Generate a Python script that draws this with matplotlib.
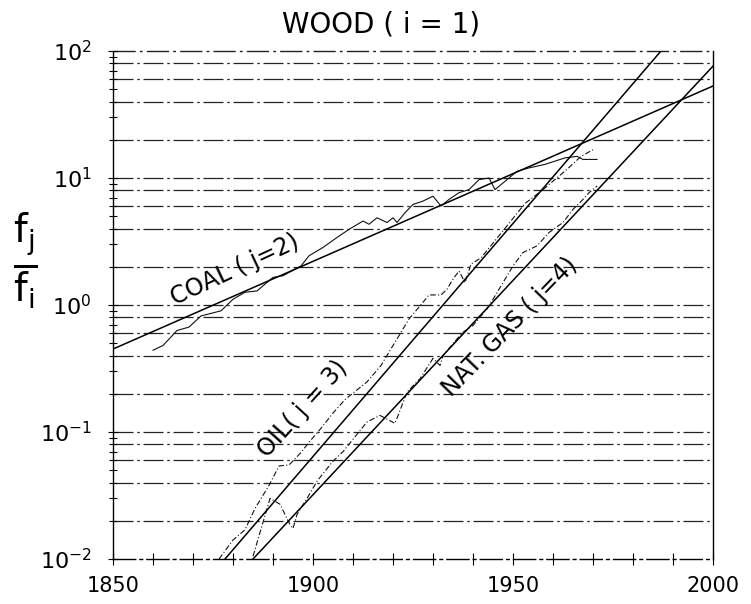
import numpy as np
import matplotlib
matplotlib.use("Agg")
import matplotlib.pyplot as plt
from matplotlib.ticker import FixedLocator, NullFormatter

plt.rcParams['font.family'] = ['DejaVu Sans']
plt.rcParams['mathtext.fontset'] = 'dejavusans'

# --- data ---
coal_years = [1860, 1862.5, 1866, 1869, 1872, 1877, 1880, 1883, 1886, 1890, 1892.5,
              1897, 1899, 1902.5, 1906, 1909, 1912.5, 1914, 1916, 1918.5, 1920, 1921,
              1923, 1925, 1927.5, 1930, 1932, 1934, 1936.5, 1939, 1941.5, 1944, 1945.5,
              1949, 1951, 1954, 1958, 1963, 1966, 1967.5, 1971]
coal_ratio = [0.44, 0.48, 0.63, 0.67, 0.82, 0.90, 1.11, 1.26, 1.29, 1.65, 1.70,
              2.03, 2.44, 2.84, 3.40, 3.94, 4.58, 4.32, 4.86, 4.46, 4.86, 4.46,
              5.33, 6.19, 6.58, 7.19, 6.01, 6.78, 7.66, 8.1, 9.7, 10.0, 8.1,
              10.0, 11.3, 12.0, 12.8, 14.4, 14.8, 14.0, 14.0]

oil_years = [1876.5, 1880, 1883, 1885.5, 1889, 1891.5, 1894, 1897, 1899, 1902, 1905,
             1908, 1913.5, 1917, 1919, 1922, 1924, 1927.5, 1929, 1932, 1933.5, 1935,
             1936.5, 1938, 1939.5, 1942, 1948.5, 1953, 1957.5, 1963.5, 1967, 1970]
oil_ratio = [0.010, 0.0141, 0.017, 0.025, 0.038, 0.054, 0.055, 0.069, 0.083, 0.107, 0.141,
             0.18, 0.248, 0.334, 0.426, 0.61, 0.776, 1.05, 1.2, 1.2, 1.33, 1.6,
             1.85, 1.5, 2.1, 2.35, 4.2, 6.3, 8.1, 11.7, 14.8, 16.7]

gas_years = [1885, 1889.25, 1891.75, 1894.25, 1895, 1896, 1898.5, 1901, 1905, 1907.5,
             1913.5, 1916.75, 1920.5, 1923.5, 1926.75, 1930, 1931.75, 1932.5, 1936,
             1937.5, 1940, 1943.5, 1945, 1950, 1952.5, 1956, 1959, 1962.5, 1965,
             1967.5, 1969, 1971]
gas_ratio = [0.0105, 0.030, 0.027, 0.0186, 0.0174, 0.0224, 0.030, 0.041, 0.059, 0.070,
             0.120, 0.135, 0.117, 0.206, 0.263, 0.38, 0.334, 0.40, 0.54,
             0.61, 0.69, 0.93, 1.11, 2.03, 2.59, 2.92, 3.72, 4.46, 5.66,
             6.78, 7.66, 8.63]

# fitted lines (straight on the log scale)
coal_fit_years = [1850, 2000]
coal_fit = [0.45, 53]
oil_fit_years = [1878, 1987]
oil_fit = [0.01, 100]
gas_fit_years = [1885, 2000]
gas_fit = [0.01, 76]

x_ticks = [1850, 1900, 1950, 2000]
y_ticks = [1e-2, 1e-1, 1e0, 1e1, 1e2]
y_tick_labels = [r'$\mathregular{10^{-2}}$', r'$\mathregular{10^{-1}}$',
                 r'$\mathregular{10^{0}}$', r'$\mathregular{10^{1}}$',
                 r'$\mathregular{10^{2}}$']
grid_mantissas = [1, 2, 4, 6, 8]

fig = plt.figure(figsize=(7.51, 6.04), dpi=100)
ax = fig.add_axes([0.1505, 0.0745, 0.7989, 0.8411])
ax.set_yscale('log')
ax.set_xlim(1850, 2000)
ax.set_ylim(1e-2, 1e2)

# dash-dot horizontal grid
grid_style = (0, (16, 3, 2, 3))
for dec in [1e-2, 1e-1, 1e0, 1e1]:
    for m in grid_mantissas:
        v = dec * m
        if v <= 1e-2 or v > 1e2:
            continue
        ax.axhline(v, color='#222222', lw=0.9, ls=grid_style, zorder=1)
ax.axhline(100, color='#222222', lw=1.0, ls=grid_style, zorder=1, clip_on=False)

# fitted lines
for xs, ys in [(coal_fit_years, coal_fit), (oil_fit_years, oil_fit), (gas_fit_years, gas_fit)]:
    ax.plot(xs, ys, color='black', lw=1.1, zorder=3)

# data curves
ax.plot(coal_years, coal_ratio, color='#111111', lw=0.8, zorder=2)
ax.plot(oil_years, oil_ratio, color='#111111', lw=0.8, ls=(0, (5, 2, 1, 2)), zorder=2)
ax.plot(gas_years, gas_ratio, color='#111111', lw=0.8, ls=(0, (5, 2, 1, 2)), zorder=2)

# labels on the curves
ax.text(1880.5, 1.91, 'COAL ( j=2)', rotation=25, fontsize=17,
        ha='center', va='center', rotation_mode='anchor')
ax.text(1897.5, 0.153, 'OIL( j = 3)', rotation=48, fontsize=17,
        ha='center', va='center', rotation_mode='anchor')
ax.text(1949.25, 0.67, 'NAT. GAS ( j=4)', rotation=46, fontsize=17,
        ha='center', va='center', rotation_mode='anchor')

# axes styling
ax.spines['top'].set_visible(False)
ax.spines['bottom'].set_linestyle(grid_style)
for s in ['left', 'right', 'bottom']:
    ax.spines[s].set_linewidth(1.0)

ax.set_xticks(x_ticks)
ax.set_xticklabels([str(x) for x in x_ticks])
ax.xaxis.set_minor_locator(FixedLocator(np.arange(1850, 2001, 10)))
ax.yaxis.set_major_locator(FixedLocator(y_ticks))
ax.set_yticklabels(y_tick_labels)
minor_y = [d * m for d in [1e-2, 1e-1, 1e0, 1e1] for m in range(2, 10)]
ax.yaxis.set_minor_locator(FixedLocator(minor_y))
ax.yaxis.set_minor_formatter(NullFormatter())
ax.tick_params(axis='both', which='both', direction='inout', width=0.8, colors='black')
ax.tick_params(axis='x', which='major', length=8, labelsize=15, pad=8)
ax.tick_params(axis='x', which='minor', length=8)
ax.tick_params(axis='y', which='major', length=7, labelsize=16, pad=12)
ax.tick_params(axis='y', which='minor', length=6)

fig.text(381 / 751, 1 - 25 / 604, 'WOOD ( i = 1)', fontsize=20, ha='center', va='center')
fig.text(25 / 751, 1 - 261 / 604, r'$\frac{\mathrm{f}_{\mathrm{j}}}{\mathrm{f}_{\mathrm{i}}}$',
         fontsize=40, ha='center', va='center')

fig.savefig('out.png', dpi=100)
